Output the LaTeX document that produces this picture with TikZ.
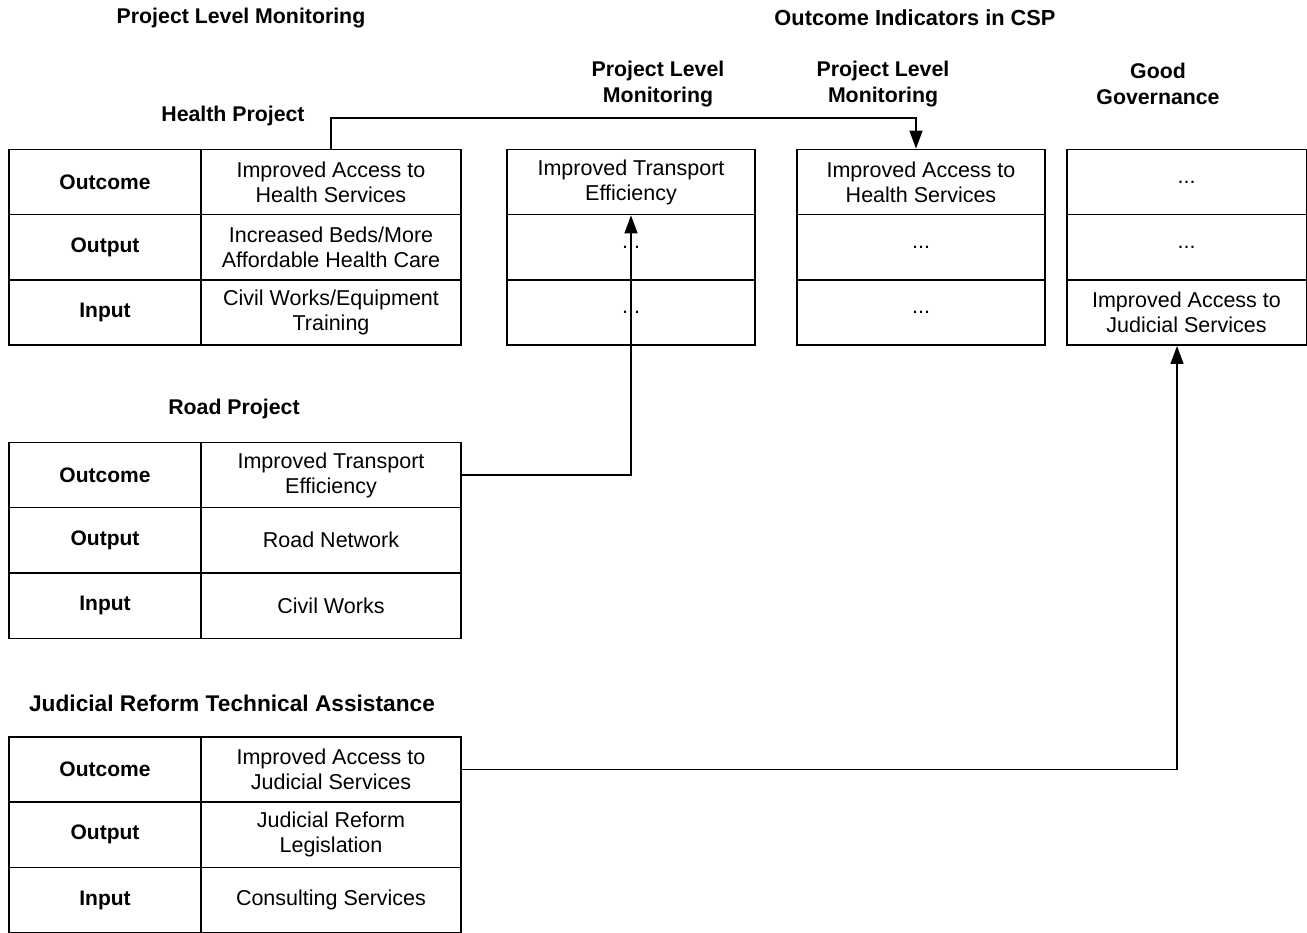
\documentclass[tikz,border=0pt]{standalone}
\usepackage{fontspec}
\setmainfont{Liberation Sans}
\usetikzlibrary{arrows.meta,calc}
\begin{document}
\begin{tikzpicture}[x=1pt,y=-1pt,
  every node/.style={font=\fontsize{21.5}{25}\selectfont, inner sep=0pt, align=center},
  cell/.style={draw, line width=1.5pt, minimum height=65.3pt},
  lab/.style={cell, minimum width=192pt, font=\fontsize{21}{25}\selectfont\bfseries},
  val/.style={cell, minimum width=260pt},
  colA/.style={cell, minimum width=248pt},
  colC/.style={cell, minimum width=239.5pt},
  title/.style={font=\fontsize{21.3}{26}\selectfont\bfseries},
  conn/.style={line width=1.5pt, -{Triangle[length=18pt,width=13pt]}}]
\useasboundingbox (0,0) rectangle (1307,933);
% titles
\node[title] (t1) at (241,18) {Project Level Monitoring};
\node[title, font=\fontsize{21.8}{26}\selectfont\bfseries] (t2) at (915,18) {Outcome Indicators in CSP};
\node[title] (t3) at (658,84) {Project Level\\Monitoring};
\node[title] (t4) at (883,84) {Project Level\\Monitoring};
\node[title] (t5) at (1158,84) {Good\\Governance};
\node[title] (th) at (233,116) {Health Project};
\node[title] (tr) at (234,409) {Road Project};
\node[title, font=\fontsize{22.7}{26}\selectfont\bfseries] (tj) at (232,703) {Judicial Reform Technical Assistance};
% health table
\node[lab] (h1l) at (105,182) {Outcome};
\node[lab] (h2l) at (105,247.3) {Output};
\node[lab] (h3l) at (105,312.6) {Input};
\node[val] (h1) at (331,182) {Improved Access to\\Health Services};
\node[val] (h2) at (331,247.3) {Increased Beds/More\\Affordable Health Care};
\node[val] (h3) at (331,312.6) {Civil Works/Equipment\\Training};
% road table
\node[lab] (r1l) at (105,475) {Outcome};
\node[lab] (r2l) at (105,540.3) {Output};
\node[lab] (r3l) at (105,605.6) {Input};
\node[val] (r1) at (331,475) {Improved Transport\\Efficiency};
\node[val] (r2) at (331,540.3) {Road Network};
\node[val] (r3) at (331,605.6) {Civil Works};
% judicial table
\node[lab] (j1l) at (105,769.5) {Outcome};
\node[lab] (j2l) at (105,834.8) {Output};
\node[lab] (j3l) at (105,900.1) {Input};
\node[val] (j1) at (331,769.5) {Improved Access to\\Judicial Services};
\node[val] (j2) at (331,834.8) {Judicial Reform\\Legislation};
\node[val] (j3) at (331,900.1) {Consulting Services};
% CSP columns
\node[colA] (a1) at (631,182) {Improved Transport\\Efficiency};
\node[colA] (a2) at (631,247.3) {...};
\node[colA] (a3) at (631,312.6) {...};
\node[colA] (b1) at (921,182) {Improved Access to\\Health Services};
\node[colA] (b2) at (921,247.3) {...};
\node[colA] (b3) at (921,312.6) {...};
\node[colC] (c1) at (1186.5,182) {...};
\node[colC] (c2) at (1186.5,247.3) {...};
\node[colC] (c3) at (1186.5,312.6) {Improved Access to\\Judicial Services};
% connectors
\coordinate (hb) at ($(b1.north)+(-5,0)$);
\draw[conn] (h1.north) |- (330,118) -| (hb);
\draw[conn] (r1.east) -| (a1.south);
\coordinate (jc) at ($(c3.south)+(-9.5,0)$);
\draw[conn] (j1.east) -| (jc);
\end{tikzpicture}
\end{document}
